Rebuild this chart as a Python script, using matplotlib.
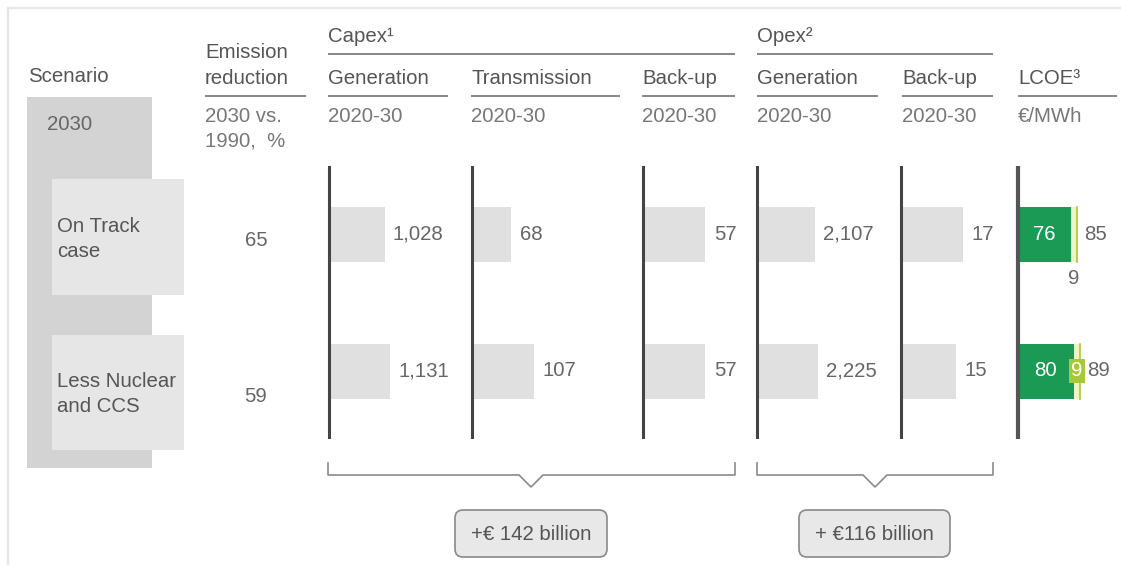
import matplotlib
matplotlib.use("Agg")
import matplotlib.pyplot as plt
from matplotlib.patches import Rectangle, FancyBboxPatch

# ---- data -------------------------------------------------------------
scenarios = ["On Track\ncase", "Less Nuclear\nand CCS"]
emission_reduction = [65, 59]
capex_generation = [1028, 1131]
capex_transmission = [68, 107]
capex_backup = [57, 57]
opex_generation = [2107, 2225]
opex_backup = [17, 15]
lcoe_base = [76, 80]
lcoe_extra = [9, 9]
lcoe_total = [85, 89]
capex_delta = 142
opex_delta = 116

# ---- style ------------------------------------------------------------
plt.rcParams["font.family"] = ["Liberation Sans", "DejaVu Sans"]
FS = 14.7
TXT = "#555555"
SUB = "#777777"
VAL = "#666666"
BAR = "#e0e0e0"
AXLINE = "#444444"
GREEN = "#1b9a55"
LIME = "#a8c83a"

W, H = 1121, 565
fig = plt.figure(figsize=(W / 100, H / 100), dpi=100)
fig.patch.set_facecolor("white")


def px_axes(x0, y0, w, h):
    return fig.add_axes([x0 / W, 1 - (y0 + h) / H, w / W, h / H])


bg = px_axes(0, 0, W, H)
bg.set_xlim(0, W)
bg.set_ylim(H, 0)
bg.axis("off")

# frame
bg.plot([8, W], [8, 8], color="#e6e6e6", lw=1.6)
bg.plot([8, 8], [8, H], color="#e6e6e6", lw=1.6)


def t(x, y, s, color=TXT, size=FS, **kw):
    kw.setdefault("va", "center")
    kw.setdefault("ha", "left")
    bg.text(x, y, s, color=color, fontsize=size, **kw)


def hline(x0, x1, y, color="#666666", lw=1.1):
    bg.plot([x0, x1], [y, y], color=color, lw=lw, solid_capstyle="butt")


# ---- scenario panel ---------------------------------------------------
bg.add_patch(Rectangle((27, 97), 125, 371, color="#d3d3d3", lw=0))
bg.add_patch(Rectangle((52, 179), 132, 116, color="#e6e6e6", lw=0))
bg.add_patch(Rectangle((52, 335), 132, 115, color="#e6e6e6", lw=0))
t(28, 77, "Scenario")
t(47, 125, "2030", color=VAL)
row_text_y = [239, 394]
for s, y in zip(scenarios, row_text_y):
    t(57, y, s, color=TXT, linespacing=1.45)

# ---- headers ----------------------------------------------------------
t(205, 53, "Emission")
t(205, 78, "reduction")
hline(205, 306, 96)
t(205, 117, "2030 vs.", color=SUB)
t(205, 141, "1990,  %", color=SUB)

t(328, 37, "Capex¹")
hline(328, 735, 54)
t(757, 37, "Opex²")
hline(757, 993, 54)

sub_headers = [
    ("Generation", 328, 448, "2020-30"),
    ("Transmission", 471, 620, "2020-30"),
    ("Back-up", 642, 735, "2020-30"),
    ("Generation", 757, 878, "2020-30"),
    ("Back-up", 902, 993, "2020-30"),
    ("LCOE³", 1018, 1117, "€/MWh"),
]
for name, x0, x1, unit in sub_headers:
    t(x0, 79, name)
    hline(x0, x1, 96)
    t(x0, 116, unit, color=SUB)

# emission values
emission_y = [240, 396]
for v, y in zip(emission_reduction, emission_y):
    t(256, y, f"{v}", color=VAL, ha="center")

# ---- bar columns --------------------------------------------------------
AX_TOP, AX_BOT = 166, 439
ROW_C = [234, 371]
sep = ROW_C[1] - ROW_C[0]
ylim_top = -(ROW_C[0] - AX_TOP) / sep
ylim_bot = 1 + (AX_BOT - ROW_C[1]) / sep
BAR_H = 55 / sep
PAD = 6
COL_W = 110


def column(x_axis, px_per_unit, lw=2.2, color=AXLINE):
    ax = px_axes(x_axis - PAD, AX_TOP, COL_W, AX_BOT - AX_TOP)
    ax.set_xlim(-PAD / px_per_unit, (COL_W - PAD) / px_per_unit)
    ax.set_ylim(ylim_bot, ylim_top)
    ax.axis("off")
    ax.patch.set_alpha(0)
    ax.axvline(0, color=color, lw=lw, zorder=5)
    return ax


rows = [0, 1]
grey_columns = [
    (capex_generation, 329, 0.054),
    (capex_transmission, 471.5, 0.585),
    (capex_backup, 642.5, 1.105),
    (opex_generation, 756.5, 0.0277),
    (opex_backup, 900.5, 3.7),
]
for values, xa, ppu in grey_columns:
    ax = column(xa, ppu)
    ax.barh(rows, values, height=BAR_H, color=BAR, lw=0, zorder=2)
    for r, v in zip(rows, values):
        ax.annotate(f"{v:,}", (v, r), xytext=(6, 0), textcoords="offset points",
                    va="center", ha="left", fontsize=FS, color=VAL)

# LCOE column
ax = column(1018, 0.695, lw=3.0, color="#555555")
ax.barh(rows, lcoe_base, height=BAR_H, color=GREEN, lw=0, zorder=2)
ax.barh(rows, lcoe_extra, left=lcoe_base, height=BAR_H, color="#eef4c4",
        lw=0, zorder=2)
for r, b, e, tot in zip(rows, lcoe_base, lcoe_extra, lcoe_total):
    ax.plot([b + e, b + e], [r - BAR_H / 2, r + BAR_H / 2], color=LIME, lw=1.2,
            zorder=3)
    ax.text(b / 2, r, f"{b}", color="white", fontsize=FS, ha="center",
            va="center", zorder=4)
    ax.annotate(f"{tot}", (tot, r), xytext=(5, 0), textcoords="offset points",
                va="center", ha="left", fontsize=FS, color=VAL)
# extra component labels
ax.annotate(f"{lcoe_extra[0]}", (lcoe_base[0] + lcoe_extra[0] / 2, 0),
            xytext=(0, -32), textcoords="offset points", ha="center",
            va="center", fontsize=FS, color=VAL)
ax.text(lcoe_base[1] + lcoe_extra[1] / 2, 1, f"{lcoe_extra[1]}", color="white",
        fontsize=FS, ha="center", va="center", zorder=6,
        bbox=dict(boxstyle="square,pad=0.12", fc=LIME, ec="none"))

# ---- brackets and totals ------------------------------------------------
def bracket(x0, x1, xc):
    bg.plot([x0, x0, xc - 12, xc, xc + 12, x1, x1],
            [463, 475, 475, 487, 475, 475, 463],
            color="#8a8a8a", lw=1.2)


bracket(328, 735, 531)
bracket(757, 993, 875)

for (x0, x1), label in [((455, 607), f"+€ {capex_delta} billion"),
                        ((799, 950), f"+ €{opex_delta} billion")]:
    bg.add_patch(FancyBboxPatch((x0, 510), x1 - x0, 47,
                                boxstyle="round,pad=0,rounding_size=8",
                                fc="#e8e8e8", ec="#8a8a8a", lw=1.2))
    t((x0 + x1) / 2, 534, label, color=TXT, ha="center")

fig.savefig("out.png", dpi=100, facecolor="white")
